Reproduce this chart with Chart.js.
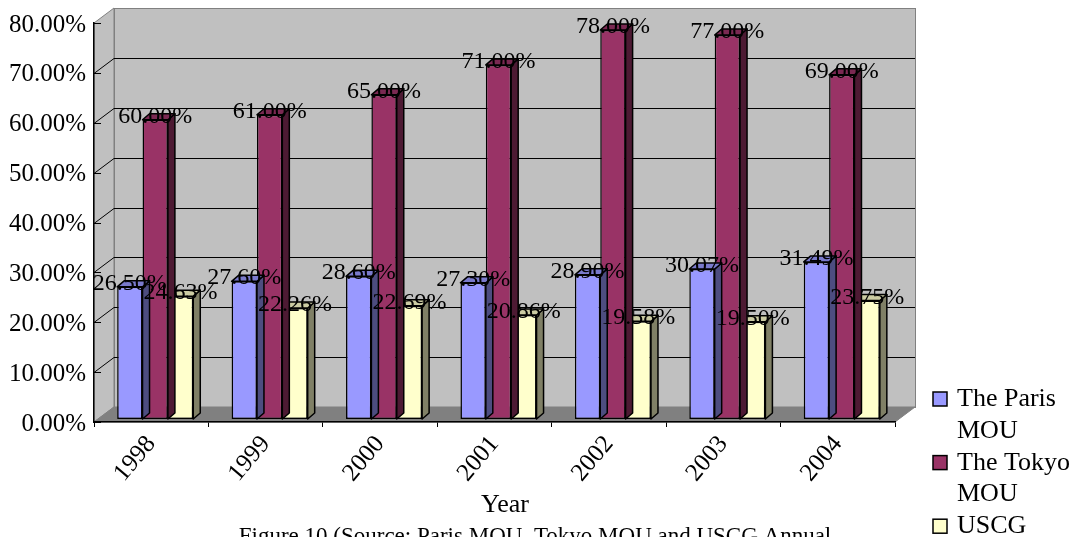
<!DOCTYPE html>
<html>
<head>
<meta charset="utf-8">
<script src="https://cdn.jsdelivr.net/npm/chart.js@4/dist/chart.umd.min.js"></script>
<style>
  html, body { margin: 0; padding: 0; background: #fff; overflow: hidden; }
  #wrap { width: 1086px; height: 537px; position: relative; }
</style>
</head>
<body>
<div id="wrap"><canvas id="chart" width="1086" height="537"></canvas></div>
<script>
// ---- data ----
const years = ['1998', '1999', '2000', '2001', '2002', '2003', '2004'];
const seriesNames = ['The Paris MOU', 'The Tokyo MOU', 'USCG'];
const parisMOU = [26.50, 27.60, 28.60, 27.30, 28.90, 30.07, 31.49];
const tokyoMOU = [60.00, 61.00, 65.00, 71.00, 78.00, 77.00, 69.00];
const uscg     = [24.63, 22.26, 22.69, 20.86, 19.58, 19.50, 23.75];
const yMin = 0, yMax = 80, yStep = 10;
const xTitle = 'Year';
const captionText = 'Figure 10 (Source: Paris MOU, Tokyo MOU and USCG Annual';

// ---- styling ----
const FONT = "'Liberation Serif', 'Times New Roman', serif";
const faceColors = ['#9999FF', '#993366', '#FFFFCC'];
const topColors  = ['#7A7ACC', '#7A2952', '#CCCCA3'];
const sideColors = ['#4D4D80', '#4D1A33', '#808066'];
const WALL = { dx: 20, dy: -15 };      // projection of the chart's depth
const BAR_SHIFT = { dx: 4, dy: -3 };   // columns stand a little behind the front plane
const BAR_DEPTH = { dx: 7, dy: -6 };   // thickness of each column

Chart.defaults.font.family = FONT;
Chart.defaults.font.size = 24;
Chart.defaults.color = '#000';

// walls, floor and gridlines behind the columns
const wallsPlugin = {
  id: 'walls',
  beforeDraw(chart) {
    const { ctx, chartArea: a, scales: { y } } = chart;
    const L = a.left, R = a.right, T = a.top, B = a.bottom;
    ctx.save();
    ctx.lineWidth = 1;
    // back wall
    ctx.fillStyle = '#C0C0C0';
    ctx.strokeStyle = '#808080';
    ctx.fillRect(L + WALL.dx, T + WALL.dy, R - L, B - T);
    ctx.strokeRect(L + WALL.dx + 0.5, T + WALL.dy + 0.5, R - L, B - T);
    // side wall
    ctx.beginPath();
    ctx.moveTo(L, T); ctx.lineTo(L + WALL.dx, T + WALL.dy);
    ctx.lineTo(L + WALL.dx, B + WALL.dy); ctx.lineTo(L, B); ctx.closePath();
    ctx.fill(); ctx.stroke();
    // floor
    ctx.fillStyle = '#808080';
    ctx.beginPath();
    ctx.moveTo(L, B); ctx.lineTo(L + WALL.dx, B + WALL.dy);
    ctx.lineTo(R + WALL.dx, B + WALL.dy); ctx.lineTo(R, B); ctx.closePath();
    ctx.fill(); ctx.stroke();
    // gridlines on side and back walls
    ctx.strokeStyle = '#000';
    for (let v = yMin + yStep; v < yMax; v += yStep) {
      const py = Math.round(y.getPixelForValue(v)) + 0.5;
      ctx.beginPath();
      ctx.moveTo(L, py);
      ctx.lineTo(L + WALL.dx, py + WALL.dy);
      ctx.lineTo(R + WALL.dx, py + WALL.dy);
      ctx.stroke();
    }
    // inside tick marks on the value axis
    for (let v = yMin; v <= yMax; v += yStep) {
      const py = Math.round(y.getPixelForValue(v)) + 0.5;
      ctx.beginPath();
      ctx.moveTo(L, py); ctx.lineTo(L + 7, py);
      ctx.stroke();
    }
    ctx.restore();
  }
};

// 3D columns: top and side faces plus value labels
const columnsPlugin = {
  id: 'columns3d',
  beforeDatasetsDraw(chart) {
    chart.ctx.save();
    chart.ctx.translate(BAR_SHIFT.dx, BAR_SHIFT.dy);
  },
  afterDatasetDraw(chart, args) {
    const ctx = chart.ctx;
    const i = args.index;
    ctx.save();
    ctx.lineWidth = 1.5;
    ctx.strokeStyle = '#000';
    ctx.lineJoin = 'round';
    args.meta.data.forEach(bar => {
      const p = bar.getProps(['x', 'y', 'base', 'width'], true);
      const l = p.x - p.width / 2, r = p.x + p.width / 2, t = p.y, b = p.base;
      // side face
      ctx.fillStyle = sideColors[i];
      ctx.beginPath();
      ctx.moveTo(r, t); ctx.lineTo(r + BAR_DEPTH.dx, t + BAR_DEPTH.dy);
      ctx.lineTo(r + BAR_DEPTH.dx, b + BAR_DEPTH.dy); ctx.lineTo(r, b); ctx.closePath();
      ctx.fill(); ctx.stroke();
      // top face
      ctx.fillStyle = topColors[i];
      ctx.beginPath();
      ctx.moveTo(l, t); ctx.lineTo(r, t);
      ctx.lineTo(r + BAR_DEPTH.dx, t + BAR_DEPTH.dy); ctx.lineTo(l + BAR_DEPTH.dx, t + BAR_DEPTH.dy);
      ctx.closePath();
      ctx.fill(); ctx.stroke();
    });
    ctx.restore();
  },
  afterDatasetsDraw(chart) {
    const ctx = chart.ctx;
    ctx.restore();
    ctx.save();
    ctx.font = '24px ' + FONT;
    ctx.fillStyle = '#000';
    ctx.textAlign = 'center';
    ctx.textBaseline = 'alphabetic';
    chart.data.datasets.forEach((ds, i) => {
      chart.getDatasetMeta(i).data.forEach((bar, j) => {
        const p = bar.getProps(['x', 'y'], true);
        ctx.fillText(ds.data[j].toFixed(2) + '%', p.x + BAR_SHIFT.dx, p.y + BAR_SHIFT.dy + 3);
      });
    });
    ctx.restore();
  }
};

// legend, axis title and caption
const textPlugin = {
  id: 'texts',
  afterDraw(chart) {
    const ctx = chart.ctx;
    ctx.save();
    ctx.font = '26px ' + FONT;
    ctx.fillStyle = '#000';
    ctx.textBaseline = 'alphabetic';

    // legend with wrapped entries
    const boxX = 933, textX = 957, maxW = 125, lineH = 31.8;
    let baseY = 406;
    chart.data.datasets.forEach((ds, i) => {
      const words = ds.label.split(' ');
      const lines = [];
      let cur = '';
      words.forEach(w => {
        const test = cur ? cur + ' ' + w : w;
        if (cur && ctx.measureText(test).width > maxW) { lines.push(cur); cur = w; }
        else cur = test;
      });
      if (cur) lines.push(cur);
      ctx.fillStyle = ds.backgroundColor;
      ctx.fillRect(boxX, baseY - 14, 14, 14);
      ctx.strokeStyle = '#000';
      ctx.lineWidth = 1.5;
      ctx.strokeRect(boxX, baseY - 14, 14, 14);
      ctx.fillStyle = '#000';
      ctx.textAlign = 'left';
      lines.forEach(line => { ctx.fillText(line, textX, baseY); baseY += lineH; });
    });

    // category axis title
    ctx.textAlign = 'center';
    ctx.fillText(xTitle, 505, 512);
    // figure caption
    ctx.font = '23px ' + FONT;
    ctx.fillText(captionText, 535, 543);
    ctx.restore();
  }
};

const datasets = [parisMOU, tokyoMOU, uscg].map((values, i) => ({
  label: seriesNames[i],
  data: values,
  backgroundColor: faceColors[i],
  borderColor: '#000',
  borderWidth: 1.5,
  borderSkipped: false,
  categoryPercentage: 0.665,
  barPercentage: 1.0,
  clip: false
}));

new Chart(document.getElementById('chart'), {
  type: 'bar',
  data: { labels: years, datasets },
  options: {
    responsive: false,
    animation: false,
    devicePixelRatio: 1,
    layout: { padding: { left: 0, top: 21, right: 191, bottom: 0 } },
    plugins: {
      legend: { display: false },
      tooltip: { enabled: false }
    },
    scales: {
      x: {
        grid: { display: true, drawOnChartArea: false, drawTicks: true, tickLength: 5, color: '#000', offset: true },
        border: { display: true, color: '#000', width: 1.5 },
        ticks: { autoSkip: false, minRotation: 50, maxRotation: 50, padding: 3, color: '#000', font: { size: 25 } },
        afterFit(scale) { scale.height = 115; }
      },
      y: {
        min: yMin,
        max: yMax,
        grid: { display: false, drawTicks: false },
        border: { display: true, color: '#000', width: 1.5 },
        ticks: {
          stepSize: yStep,
          padding: 8,
          labelOffset: 2,
          color: '#000',
          font: { size: 25 },
          callback: v => v.toFixed(2) + '%'
        },
        afterFit(scale) { scale.width = 94; }
      }
    }
  },
  plugins: [wallsPlugin, columnsPlugin, textPlugin]
});
</script>
</body>
</html>
